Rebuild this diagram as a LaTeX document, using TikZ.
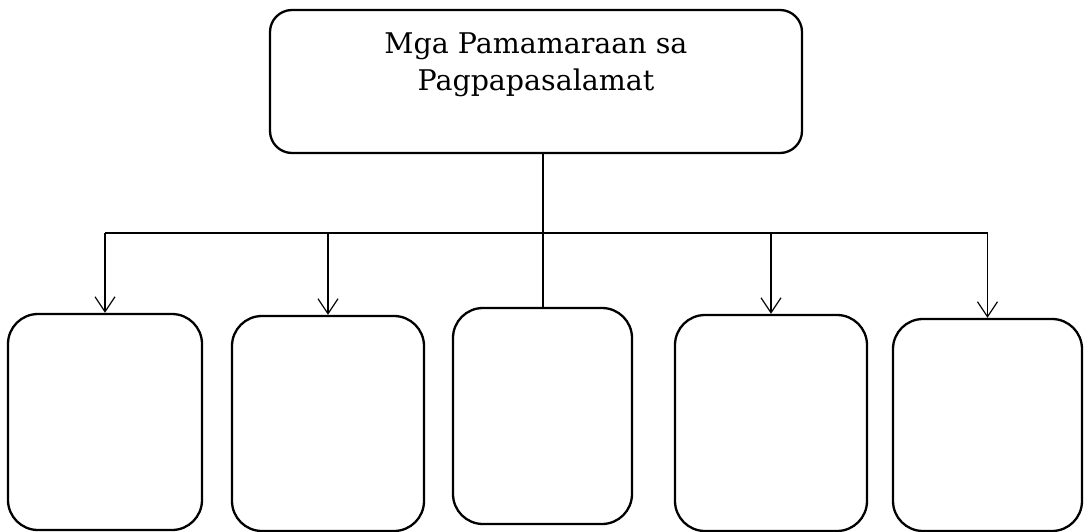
\documentclass[tikz,border=0pt]{standalone}
\usepackage{fontspec}
\setmainfont{DejaVu Serif}
\usetikzlibrary{arrows.meta}

\tikzset{
  box/.style={draw, line width=2.3pt, rounded corners=30pt, minimum width=192pt, minimum height=216pt},
  bus/.style={line width=2.3pt},
  >={Straight Barb[length=15pt,width=20pt]}
}

\begin{document}
\begin{tikzpicture}[x=1pt,y=-1pt]
		\useasboundingbox (0,0) rectangle (1084,532);
		\draw (536,81.5) node [box, rounded corners=22pt, minimum width=532pt, minimum height=143pt, align=center, text depth=40pt, font=\fontsize{28.5}{37}\selectfont] (top) {Mga Pamamaraan sa\\Pagpapasalamat};
		\draw (105,422) node [box, minimum width=194pt] (b1) {};
		\draw (328,423.5) node [box, minimum height=215pt] (b2) {};
		\draw (542.5,416) node [box, minimum width=179pt] (b3) {};
		\draw (771,423) node [box] (b4) {};
		\draw (987.5,425) node [box, minimum width=189pt, minimum height=212pt] (b5) {};
		\coordinate (hub) at (543,233);
		% bus and stem
		\draw[bus] (b1 |- hub) -- (b5 |- hub);
		\draw[bus] (top.south -| hub) -- (b3.north -| hub);
		\path[->, line width=1.2pt]
			(b1 |- hub) edge (b1)
			(b2 |- hub) edge (b2)
			(b4 |- hub) edge (b4)
			(b5 |- hub) edge (b5);
	\end{tikzpicture}
\end{document}
